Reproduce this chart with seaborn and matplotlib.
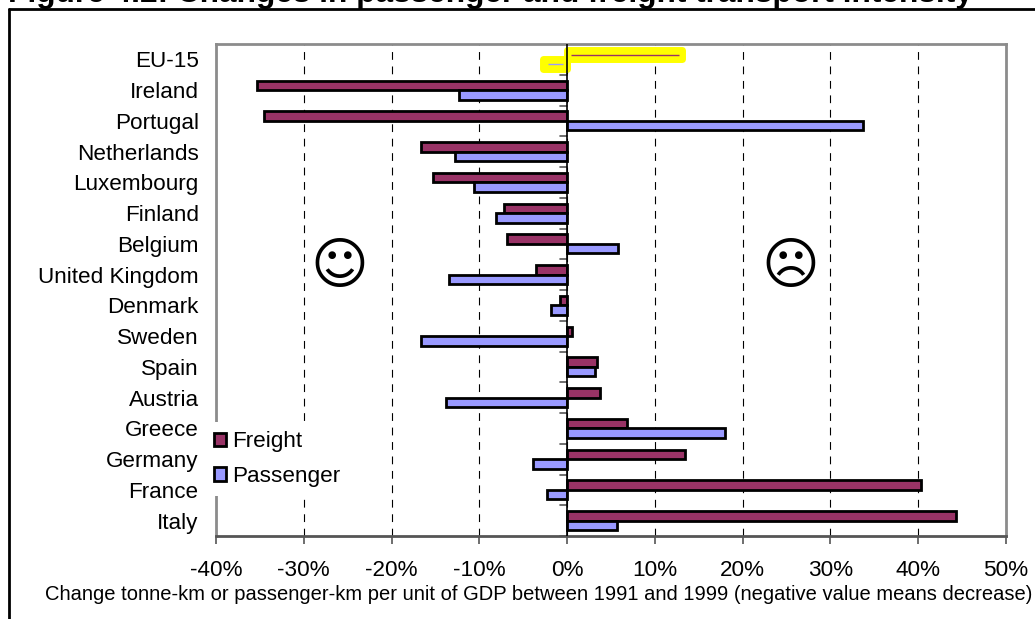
import matplotlib
matplotlib.use("Agg")
import matplotlib.pyplot as plt
import pandas as pd
import seaborn as sns
from matplotlib.ticker import PercentFormatter

countries = ["EU-15", "Ireland", "Portugal", "Netherlands", "Luxembourg", "Finland", "Belgium",
             "United Kingdom", "Denmark", "Sweden", "Spain", "Austria", "Greece", "Germany",
             "France", "Italy"]
freight = [12.7, -35.3, -34.5, -16.7, -15.3, -7.2, -6.9, -3.6, -0.8, 0.6, 3.4, 3.8, 6.8, 13.4, 40.3, 44.3]
passenger = [-2.2, -12.3, 33.7, -12.8, -10.6, -8.1, 5.8, -13.5, -1.8, -16.7, 3.2, -13.8, 18.0, -3.9, -2.3, 5.7]
series_names = ["Freight", "Passenger"]
series_colors = ["#993366", "#9999ff"]
x_ticks = [-40, -30, -20, -10, 0, 10, 20, 30, 40, 50]

sns.set_theme(style="white")
plt.rcParams["font.family"] = ["Liberation Sans", "DejaVu Sans"]
plt.rcParams["axes.unicode_minus"] = False

df = pd.DataFrame({"country": countries, "Freight": freight, "Passenger": passenger})
df = df.melt(id_vars="country", var_name="series", value_name="change")

W, H = 1035, 619
fig = plt.figure(figsize=(W / 100, H / 100), dpi=100)
ax = fig.add_axes([216 / W, 1 - 536 / H, 790 / W, 492 / H])

sns.barplot(data=df, y="country", x="change", hue="series", order=countries,
            hue_order=series_names, palette=series_colors, width=0.62, gap=0, saturation=1,
            edgecolor="black", linewidth=2, zorder=3, ax=ax)

# EU-15 bars are highlighted with a yellow marker, only a thin line stays visible
for container, vals, col in zip(ax.containers, [freight, passenger], series_colors):
    bar = container.patches[0]
    yc = bar.get_y() + bar.get_height() / 2
    # marker runs a bit past the end of the bar
    bar.set_width(vals[0] + (0.4 if vals[0] > 0 else -0.6))
    bar.set_facecolor("#ffff00")
    bar.set_edgecolor("#ffff00")
    bar.set_linewidth(5)
    bar.set_joinstyle("round")
    bar.set_zorder(4)
    inner = 0.45 if vals[0] > 0 else -0.45
    ax.plot([inner, vals[0]], [yc, yc], color=col, lw=1, zorder=5, solid_capstyle="butt")

ax.set_xlim(x_ticks[0], x_ticks[-1])
ax.set_ylim(len(countries) - 0.5, -0.5)
ax.set_xticks(x_ticks)
ax.xaxis.set_major_formatter(PercentFormatter(decimals=0))
ax.set_ylabel("")
ax.set_xlabel("Change tonne-km or passenger-km per unit of GDP between 1991 and 1999 (negative value means decrease)",
              fontsize=14.5, color="black")
ax.xaxis.set_label_coords(0.409, -0.1)

ax.grid(axis="x", color="black", lw=0.8, ls=(0, (7, 6)), zorder=1)
ax.tick_params(axis="x", bottom=True, length=6, width=1.2, color="#555555", labelsize=16.2, pad=11, labelcolor="black")
ax.tick_params(axis="y", left=False, labelsize=16.2, pad=6.5, labelcolor="black")

for side in ["top", "left", "right"]:
    ax.spines[side].set_color("#8c8c8c")
    ax.spines[side].set_linewidth(2)
ax.spines["bottom"].set_color("#555555")
ax.spines["bottom"].set_linewidth(2)

# vertical axis runs through zero, with ticks between categories
ax.axvline(0, color="black", lw=1.2, zorder=6)
for i in range(len(countries) + 1):
    ax.plot([-0.8, 0], [i - 0.5, i - 0.5], color="#555555", lw=1.2, zorder=2)

handles, labels = ax.get_legend_handles_labels()
leg = ax.legend(handles, labels, loc="upper left", bbox_to_anchor=(-0.0139, 0.2307), frameon=True,
                facecolor="white", edgecolor="none", framealpha=1, fontsize=16.2, borderpad=0.4,
                borderaxespad=0, handlelength=0.55, handleheight=0.55, handletextpad=0.25, labelspacing=0.59,
                labelcolor="black")
leg.set_zorder(7)

# faces drawn as text glyphs
ax.text(-25.9, 6.77, "\u263a", family="DejaVu Sans", fontsize=40, ha="center", va="center", color="black", zorder=4)
ax.text(25.4, 6.77, "\u2639", family="DejaVu Sans", fontsize=40, ha="center", va="center", color="black", zorder=4)

fig.text(8 / W, 1 - 2 / H, "Figure 4.2: Changes in passenger and freight transport intensity",
         fontsize=22.8, fontweight="bold", color="black", ha="left", va="baseline")

# outer frame of the figure box, open at the bottom
frame = dict(color="black", lw=2, transform=fig.transFigure, clip_on=False)
fig.add_artist(plt.Line2D([8.5 / W, 8.5 / W], [0, 1 - 9 / H], **frame))
fig.add_artist(plt.Line2D([8.5 / W, 1 - 0 / W], [1 - 9 / H, 1 - 9 / H], **frame))

fig.savefig("out.png", dpi=100)
